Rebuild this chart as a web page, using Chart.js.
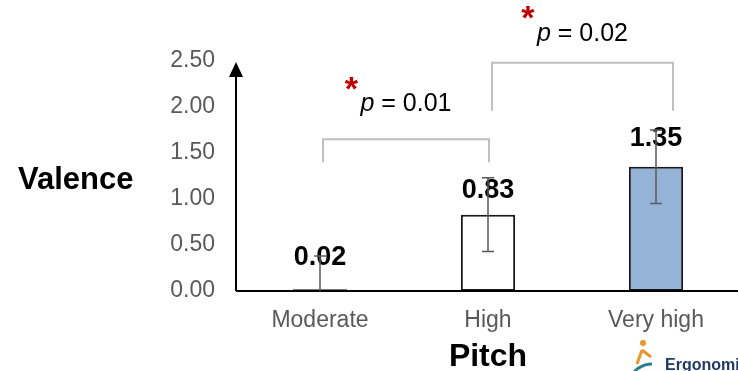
<!DOCTYPE html>
<html>
<head>
<meta charset="utf-8">
<script src="https://cdn.jsdelivr.net/npm/chart.js@4"></script>
<style>
  html, body { margin: 0; padding: 0; background: #fff; overflow: hidden; }
  #wrap { width: 738px; height: 371px; position: relative; overflow: hidden; }
</style>
</head>
<body>
<div id="wrap"><canvas id="myChart" width="741" height="371"></canvas></div>
<script>
// data
var categories = ["Moderate", "High", "Very high"];
var valence = [0.02, 0.83, 1.35];
var errors = [0.36, 0.40, 0.40];
var barColors = ["#ffffff", "#ffffff", "#95B3D7"];
var yTicks = [0, 0.5, 1, 1.5, 2, 2.5];

// significance brackets
var bracketFrom = [0, 1];
var bracketTo = [1, 2];
var bracketTop = [1.65, 2.48];
var bracketLeg = [1.40, 1.96];
var pValues = ["0.01", "0.02"];

var ctx = document.getElementById("myChart").getContext("2d");
var FONT = "'Liberation Sans', Arial, sans-serif";

var extras = {
  id: "extras",
  afterDatasetsDraw: function (chart) {
    var c = chart.ctx;
    var x = chart.scales.x, y = chart.scales.y;
    var area = chart.chartArea;
    c.save();

    // axes
    c.strokeStyle = "#000";
    c.lineWidth = 2;
    c.beginPath();
    c.moveTo(area.left, area.bottom);
    c.lineTo(741, area.bottom);
    c.moveTo(area.left, area.bottom);
    c.lineTo(area.left, area.top + 12);
    c.stroke();
    c.fillStyle = "#000";
    c.beginPath();
    c.moveTo(area.left, area.top + 1);
    c.lineTo(area.left - 7, area.top + 16);
    c.lineTo(area.left + 7, area.top + 16);
    c.closePath();
    c.fill();

    // value labels
    c.font = "bold 27px " + FONT;
    c.textAlign = "center";
    c.textBaseline = "middle";
    c.fillStyle = "#000";
    var labelOff = [32, 24, 28];
    valence.forEach(function (v, i) {
      c.fillText(v.toFixed(2), x.getPixelForValue(i), y.getPixelForValue(v) - labelOff[i]);
    });

    // error bars
    c.strokeStyle = "#595959";
    c.lineWidth = 1.5;
    valence.forEach(function (v, i) {
      var px = x.getPixelForValue(i);
      var top = y.getPixelForValue(v + errors[i]);
      var lo = v - errors[i];
      var bot = lo < 0 ? area.bottom : y.getPixelForValue(lo);
      c.beginPath();
      c.moveTo(px, top);
      c.lineTo(px, bot);
      c.moveTo(px - 6, top);
      c.lineTo(px + 6, top);
      if (lo >= 0) {
        c.moveTo(px - 6, bot);
        c.lineTo(px + 6, bot);
      }
      c.stroke();
    });

    // brackets
    var leftOff = [3, 4];
    var rightOff = [1, 17];
    var textUp = [35, 29];
    c.strokeStyle = "#BFBFBF";
    c.lineWidth = 2;
    bracketFrom.forEach(function (f, i) {
      var x1 = x.getPixelForValue(f) + leftOff[i];
      var x2 = x.getPixelForValue(bracketTo[i]) + rightOff[i];
      var yt = y.getPixelForValue(bracketTop[i]);
      var yl = y.getPixelForValue(bracketLeg[i]);
      c.beginPath();
      c.moveTo(x1, yl);
      c.lineTo(x1, yt);
      c.lineTo(x2, yt);
      c.lineTo(x2, yl);
      c.stroke();

      var mid = (x1 + x2) / 2;
      var ty = yt - textUp[i];
      c.font = "italic 25px " + FONT;
      var pW = c.measureText("p").width;
      c.font = "25px " + FONT;
      var rest = " = " + pValues[i];
      var rW = c.measureText(rest).width;
      var sx = mid - (pW + rW) / 2;
      c.textAlign = "left";
      c.fillStyle = "#000";
      c.font = "italic 25px " + FONT;
      c.fillText("p", sx, ty);
      c.font = "25px " + FONT;
      c.fillText(rest, sx + pW, ty);
      c.fillStyle = "#C00000";
      c.font = "bold 34px " + FONT;
      c.textAlign = "center";
      c.fillText("*", sx - 9, ty - 14);
    });

    // axis titles
    c.fillStyle = "#000";
    c.font = "bold 31px " + FONT;
    c.textAlign = "left";
    c.fillText("Valence", 18, 180);
    c.font = "bold 32px " + FONT;
    c.textAlign = "center";
    c.fillText("Pitch", 488, 357);

    // logo scrap at the corner
    c.strokeStyle = "#E8962E";
    c.lineWidth = 3;
    c.beginPath();
    c.moveTo(642, 350);
    c.lineTo(637, 364);
    c.moveTo(642, 350);
    c.lineTo(651, 357);
    c.stroke();
    c.fillStyle = "#E8962E";
    c.beginPath();
    c.arc(643, 343, 3, 0, Math.PI * 2);
    c.fill();
    c.strokeStyle = "#2A7F8F";
    c.beginPath();
    c.arc(652, 388, 24, Math.PI * 1.1, Math.PI * 1.5);
    c.stroke();
    c.fillStyle = "#1F3864";
    c.font = "bold 16px " + FONT;
    c.textAlign = "left";
    c.fillText("Ergonomics", 665, 366);

    c.restore();
  }
};

var myChart = new Chart(ctx, {
  type: "bar",
  data: {
    labels: categories,
    datasets: [
      {
        label: "Valence",
        data: valence,
        backgroundColor: barColors,
        borderColor: "#1a1a1a",
        borderWidth: 2,
        borderSkipped: false,
        barPercentage: 0.323,
        categoryPercentage: 1,
      },
    ],
  },
  options: {
    responsive: false,
    animation: false,
    layout: { padding: { top: 61, right: 1, bottom: 0, left: 0 } },
    plugins: { legend: { display: false }, tooltip: { enabled: false } },
    scales: {
      x: {
        grid: { display: false, drawTicks: false },
        border: { display: false },
        ticks: { color: "#595959", font: { family: FONT, size: 23 }, padding: 16 },
        afterFit: function (s) { s.height = 80; },
      },
      y: {
        min: 0,
        max: 2.5,
        grid: { display: false, drawTicks: false },
        border: { display: false },
        afterBuildTicks: function (s) { s.ticks = yTicks.map(function (v) { return { value: v }; }); },
        ticks: {
          color: "#595959",
          font: { family: FONT, size: 23 },
          padding: 21,
          callback: function (v) { return Number(v).toFixed(2); },
        },
        afterFit: function (s) { s.width = 236; },
      },
    },
  },
  plugins: [extras],
});
</script>
</body>
</html>
